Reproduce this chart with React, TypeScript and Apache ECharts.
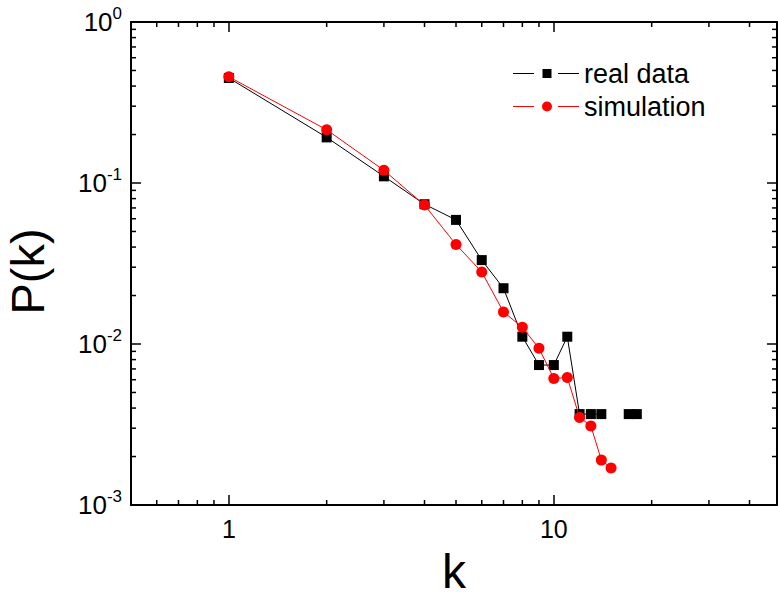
import React, { useEffect, useRef } from "react";
import * as echarts from "echarts";

const kReal = [1, 2, 3, 4, 5, 6, 7, 8, 9, 10, 11, 12, 13, 14, 15, 16, 17, 18];
const realP: (number | null)[] = [0.449, 0.192, 0.11, 0.0738, 0.059, 0.0332, 0.0222, 0.0111, 0.0074, 0.0074, 0.0111, 0.00367, 0.00367, 0.00367, null, null, 0.00367, 0.00367];
const kSim = [1, 2, 3, 4, 5, 6, 7, 8, 9, 10, 11, 12, 13, 14, 15];
const simP = [0.457, 0.214, 0.12, 0.0729, 0.0415, 0.028, 0.0158, 0.0127, 0.0094, 0.0061, 0.0062, 0.0035, 0.0031, 0.0019, 0.0017];

const xMinorTicks = [0.6, 0.7, 0.8, 0.9, 2, 3, 4, 5, 6, 7, 8, 9, 20, 30, 40];
const yMinorTicks = [0.002, 0.003, 0.004, 0.005, 0.006, 0.007, 0.008, 0.009, 0.02, 0.03, 0.04, 0.05, 0.06, 0.07, 0.08, 0.09, 0.2, 0.3, 0.4, 0.5, 0.6, 0.7, 0.8, 0.9];
const xMin = 0.5;
const xMax = 48.6;
const yMin = 0.001;
const yMax = 1;

const FONT = "Liberation Sans, Arial, sans-serif";

const ICON_REAL = "path://M0,4h21v1h-21z M29.5,0h9v9h-9z M45,4h21v1h-21z";
const ICON_SIM = "path://M0,4.5h21v1h-21z M29,5a5,5 0 1,0 10,0a5,5 0 1,0 -10,0z M45,4.5h21v1h-21z";

export default function App() {
  const ref = useRef<HTMLDivElement>(null);
  useEffect(() => {
    if (!ref.current) return;
    const chart = echarts.init(ref.current, null, { renderer: "svg" });
    const tickData: number[][] = [
      ...xMinorTicks.map((v) => [v, 0.01, 0]),
      ...yMinorTicks.map((v) => [1, v, 1]),
    ];
    const axisCommon = {
      type: "log" as const,
      logBase: 10,
      axisLine: { show: true, lineStyle: { color: "#000", width: 2 } },
      axisTick: { show: true, inside: true, length: 10, lineStyle: { color: "#000", width: 1.5 } },
      splitLine: { show: false },
      minorTick: { show: false },
    };
    chart.setOption({
      animation: false,
      backgroundColor: "#fff",
      textStyle: { fontFamily: FONT },
      grid: { left: 131, top: 22, right: 1, bottom: 97, containLabel: false, outerBoundsMode: "none" },
      legend: {
        data: [
          { name: "real data", icon: ICON_REAL },
          { name: "simulation", icon: ICON_SIM },
        ],
        orient: "vertical",
        left: 508,
        top: 55,
        itemWidth: 66,
        itemHeight: 12,
        itemGap: 6,
        symbolKeepAspect: true,
        textStyle: { fontSize: 27, color: "#000", fontFamily: FONT },
      },
      xAxis: [
        {
          ...axisCommon,
          position: "bottom",
          min: xMin,
          max: xMax,
          name: "k",
          nameLocation: "middle",
          nameGap: 42,
          nameTextStyle: { fontSize: 48, color: "#000", fontFamily: FONT },
          axisLabel: {
            show: true,
            margin: 11,
            fontSize: 25,
            color: "#000",
            fontFamily: FONT,
            showMinLabel: false,
            showMaxLabel: false,
            formatter: (v: number) => String(Math.round(v)),
          },
        },
        {
          ...axisCommon,
          position: "top",
          min: xMin,
          max: xMax,
          axisLabel: { show: false },
        },
      ],
      yAxis: [
        {
          ...axisCommon,
          position: "left",
          min: yMin,
          max: yMax,
          name: "P(k)",
          nameLocation: "middle",
          nameGap: 84,
          nameRotate: 90,
          nameTextStyle: { fontSize: 47, lineHeight: 40, color: "#000", fontFamily: FONT, padding: [0, 16, 0, 0] },
          axisLabel: {
            show: true,
            margin: 9,
            color: "#000",
            fontFamily: FONT,
            formatter: (v: number) => {
              const e = Math.round(Math.log10(v));
              return "{b|10}{s|" + e + "}";
            },
            rich: {
              b: { fontSize: 26, color: "#000", fontFamily: FONT },
              s: { fontSize: 17, color: "#000", fontFamily: FONT, padding: [0, 0, 18, 0] },
            },
          },
        },
        {
          ...axisCommon,
          position: "right",
          min: yMin,
          max: yMax,
          axisLabel: { show: false },
        },
      ],
      series: [
        {
          name: "real data",
          type: "line",
          xAxisIndex: 0,
          yAxisIndex: 0,
          data: kReal.map((k, i) => [k, realP[i] == null ? "-" : realP[i]]),
          connectNulls: false,
          symbol: "rect",
          symbolSize: 10,
          lineStyle: { color: "#000", width: 1 },
          itemStyle: { color: "#000" },
          z: 3,
        },
        {
          name: "simulation",
          type: "line",
          xAxisIndex: 0,
          yAxisIndex: 0,
          data: kSim.map((k, i) => [k, simP[i]]),
          symbol: "circle",
          symbolSize: 11,
          lineStyle: { color: "#ff0000", width: 1 },
          itemStyle: { color: "#ff0000" },
          z: 4,
        },
        {
          type: "custom",
          silent: true,
          clip: false,
          xAxisIndex: 0,
          yAxisIndex: 0,
          data: tickData,
          z: 5,
          renderItem: (params: any, api: any) => {
            const cs = params.coordSys;
            const p = api.coord([api.value(0), api.value(1)]);
            const kind = api.value(2);
            const style = { stroke: "#000", lineWidth: 1.5 };
            const L = 5;
            if (kind === 0) {
              const x = p[0];
              return {
                type: "group",
                children: [
                  { type: "line", shape: { x1: x, y1: cs.y + cs.height, x2: x, y2: cs.y + cs.height - L }, style },
                  { type: "line", shape: { x1: x, y1: cs.y, x2: x, y2: cs.y + L }, style },
                ],
              };
            }
            const y = p[1];
            return {
              type: "group",
              children: [
                { type: "line", shape: { x1: cs.x, y1: y, x2: cs.x + L, y2: y }, style },
                { type: "line", shape: { x1: cs.x + cs.width, y1: y, x2: cs.x + cs.width - L, y2: y }, style },
              ],
            };
          },
        },
      ],
    });
    return () => chart.dispose();
  }, []);
  return <div ref={ref} style={{ width: 778, height: 602, position: "absolute", left: 0, top: 0 }} />;
}
